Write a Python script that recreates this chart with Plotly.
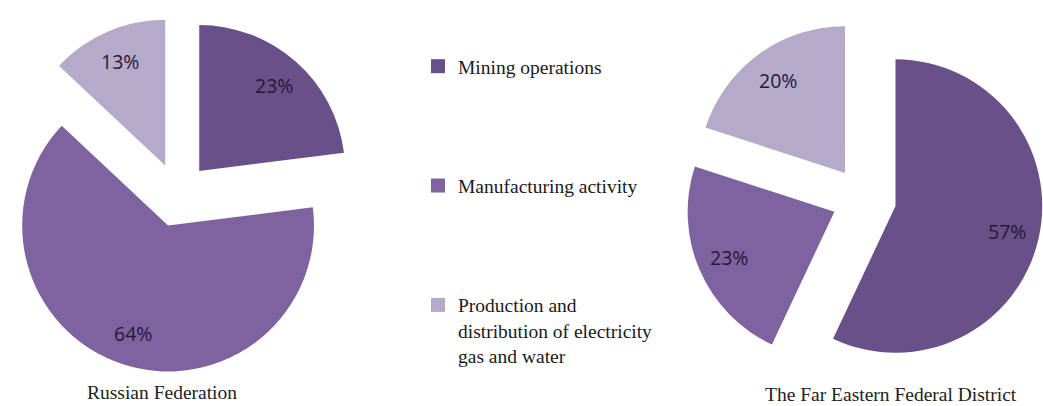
import math
import plotly.graph_objects as go

categories = ["Mining operations", "Manufacturing activity",
              "Production and distribution of electricity gas and water"]
legend_labels = ["Mining operations", "Manufacturing activity",
                 "Production and<br>distribution of electricity<br>gas and water"]
russia_values = [23, 64, 13]
far_east_values = [57, 23, 20]
pie_titles = ["Russian Federation", "The Far Eastern Federal District"]
colors = ["#6A5088", "#7F62A0", "#B5AACA"]

W, H = 1043, 406
PULL = 0.22
LABEL_R = 0.78  # fraction of radius, measured from the pulled slice corner

# pie boxes in pixels: (left, right, top, bottom)
boxes = [(0, 356, 17, 373), (685, 1043, 20, 378)]

fig = go.Figure()
annots = []

for values, (l, r_, t, b), title, tx, ty in zip(
        [russia_values, far_east_values], boxes, pie_titles, [162, 891], [392, 394]):
    fig.add_trace(go.Pie(
        labels=categories, values=values, pull=[PULL] * len(values),
        sort=False, direction="clockwise", rotation=0,
        marker=dict(colors=colors, line=dict(width=0)),
        textinfo="none", showlegend=False, hoverinfo="label+percent",
        domain=dict(x=[l / W, r_ / W], y=[1 - b / H, 1 - t / H]),
    ))
    # percentage labels placed along each slice's bisector
    cx, cy = (l + r_) / 2, (t + b) / 2
    rad = min(r_ - l, b - t) / 2 / (1 + PULL)
    total = sum(values)
    cum = 0
    for v in values:
        mid = 2 * math.pi * (cum + v / 2) / total
        cum += v
        dist = rad * (PULL + LABEL_R)
        px = cx + dist * math.sin(mid)
        py = cy - dist * math.cos(mid)
        annots.append(dict(text=f"{v}%", x=px / W, y=1 - py / H,
                           xref="paper", yref="paper", showarrow=False,
                           xanchor="center", yanchor="middle",
                           font=dict(family="Open Sans", size=19.5, color="#241a33")))
    annots.append(dict(text=title, x=tx / W, y=1 - ty / H, xref="paper", yref="paper",
                       showarrow=False, xanchor="center", yanchor="middle",
                       font=dict(family="Liberation Serif", size=19.5, color="#222222")))

for i, (lab, col) in enumerate(zip(legend_labels, colors)):
    fig.add_trace(go.Scatter(x=[None], y=[None], mode="markers", name=lab,
                             legendgroup=f"g{i}",
                             marker=dict(symbol="square", size=14, color=col),
                             hoverinfo="skip"))

fig.update_layout(
    width=W, height=H,
    margin=dict(l=0, r=0, t=0, b=0),
    paper_bgcolor="white", plot_bgcolor="white",
    xaxis=dict(visible=False), yaxis=dict(visible=False),
    legend=dict(x=418 / W, xanchor="left", y=1 - 47 / H, yanchor="top",
                font=dict(family="Liberation Serif", size=19.5, color="#1a1a1a"),
                tracegroupgap=91, valign="top", bgcolor="rgba(0,0,0,0)"),
    annotations=annots,
)

fig.write_html("out.html", config={"displayModeBar": False},
               post_script="document.body.style.margin='0';document.body.style.overflow='hidden';")
